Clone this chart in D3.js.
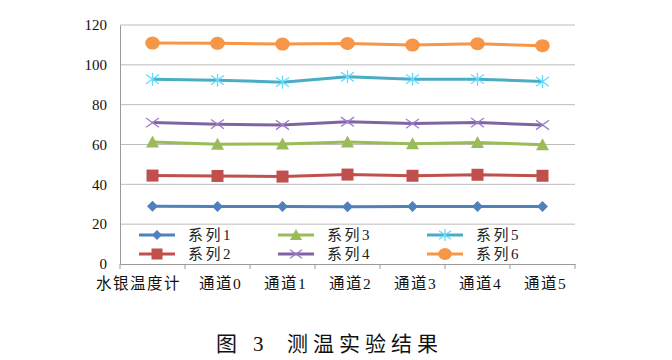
<!DOCTYPE html>
<html><head><meta charset="utf-8">
<script src="https://cdn.jsdelivr.net/npm/d3@7/dist/d3.min.js"></script>
<style>body{margin:0;background:#fff}svg{display:block}</style>
</head><body>
<svg id="c" width="672" height="360"></svg>
<script>
const categories = ["水银温度计","通道0","通道1","通道2","通道3","通道4","通道5"];
const seriesNames = ["系列1","系列2","系列3","系列4","系列5","系列6"];
const s1 = [29.0, 28.9, 28.9, 28.8, 28.9, 28.9, 28.9];
const s2 = [44.4, 44.2, 43.9, 44.9, 44.3, 44.8, 44.3];
const s3 = [61.3, 60.1, 60.3, 61.2, 60.4, 61.0, 59.9];
const s4 = [71.0, 70.2, 69.8, 71.4, 70.5, 71.0, 69.8];
const s5 = [92.8, 92.3, 91.3, 94.0, 92.8, 92.8, 91.6];
const s6 = [110.9, 110.8, 110.4, 110.7, 109.9, 110.6, 109.6];
const yTicks = [0,20,40,60,80,100,120];
const seriesValues = [s1,s2,s3,s4,s5,s6];
const colors = ["#4F81BD","#C0504D","#9BBB59","#8064A2","#4BACC6","#F79646"];
const markers = ["diamond","square","triangle","x","star","circle"];

const svg = d3.select("#c");
const L=120, R=575, T=25, B=264;
const x = d3.scaleBand().domain(categories).range([L,R]);
const y = d3.scaleLinear().domain([0,120]).range([B,T]);
const serif = "Liberation Serif, DejaVu Serif, Noto Sans CJK SC, serif";

// gridlines
svg.append("g").selectAll("line").data(yTicks.filter(d=>d>0)).join("line")
  .attr("x1",L).attr("x2",R).attr("y1",d=>y(d)).attr("y2",d=>y(d))
  .attr("stroke","#bdbdbd").attr("stroke-width",1);

// axes
const yAxis = svg.append("g").attr("transform",`translate(${L},0)`)
  .call(d3.axisLeft(y).tickValues(yTicks).tickSize(0).tickPadding(13));
yAxis.attr("font-family",null);
yAxis.select(".domain").attr("stroke","#9a9a9a");
yAxis.selectAll("text").style("font-family",serif).style("font-size","15px").attr("fill","#111");

const xAxis = svg.append("g").attr("transform",`translate(0,${B})`)
  .call(d3.axisBottom(x).tickSize(0).tickPadding(14));
xAxis.attr("font-family",null);
xAxis.select(".domain").attr("stroke","#9a9a9a");
xAxis.selectAll("text").style("font-family",serif).style("font-size","15.5px").attr("fill","#111")
  .attr("letter-spacing","1.5px").attr("dx",(d,i)=>i===0?"-14":"3");
// boundary tick marks
const bounds = categories.map(c=>x(c)).concat([R]);
svg.append("g").selectAll("line").data(bounds).join("line")
  .attr("x1",d=>d).attr("x2",d=>d).attr("y1",B).attr("y2",B+5)
  .attr("stroke","#9a9a9a");

function drawMarker(g, type, color, size){
  const s = size;
  if(type==="diamond"){
    g.append("path").attr("d",`M0,${-s/2}L${s/2},0L0,${s/2}L${-s/2},0Z`).attr("fill",color);
  } else if(type==="square"){
    g.append("rect").attr("x",-s/2).attr("y",-s/2).attr("width",s).attr("height",s).attr("fill",color);
  } else if(type==="triangle"){
    g.append("path").attr("d",`M0,${-s/2-1}L${s/2+1},${s/2}L${-s/2-1},${s/2}Z`).attr("fill",color);
  } else if(type==="circle"){
    g.append("ellipse").attr("rx",s/2+0.8).attr("ry",s/2).attr("fill",color);
  } else if(type==="x"){
    const h=s/2;
    g.append("path").attr("d",`M${-h},${-h/1.4}L${h},${h/1.4}M${-h},${h/1.4}L${h},${-h/1.4}`)
      .attr("stroke",d3.color(color).brighter(0.6)).attr("stroke-width",1.3).attr("fill","none");
  } else if(type==="star"){
    const h=s/2;
    g.append("path").attr("d",`M${-h},${-h/1.4}L${h},${h/1.4}M${-h},${h/1.4}L${h},${-h/1.4}M0,${-h}L0,${h}`)
      .attr("stroke",d3.color(color).brighter(0.7)).attr("stroke-width",1.3).attr("fill","none");
  }
}
const mSize = [11,12,11,13,13,13];
const line = d3.line().x((d,i)=>x(categories[i])+x.bandwidth()/2).y(d=>y(d));

seriesValues.forEach((vals,si)=>{
  const g = svg.append("g");
  g.append("path").datum(vals).attr("d",line).attr("fill","none")
    .attr("stroke",colors[si]).attr("stroke-width",3).attr("stroke-linejoin","round");
  vals.forEach((v,i)=>{
    const mg = g.append("g").attr("transform",`translate(${x(categories[i])+x.bandwidth()/2},${y(v)})`);
    drawMarker(mg, markers[si], colors[si], mSize[si]);
  });
});

// legend
const legX = [139, 278, 427];
const legY = [235, 254];
seriesNames.forEach((name,si)=>{
  const col = Math.floor(si/2), row = si%2;
  const g = svg.append("g").attr("transform",`translate(${legX[col]},${legY[row]})`);
  g.append("line").attr("x1",0).attr("x2",36).attr("stroke",colors[si]).attr("stroke-width",3);
  const mg = g.append("g").attr("transform","translate(18,0)");
  drawMarker(mg, markers[si], colors[si], mSize[si]-1);
  g.append("text").attr("x",49).attr("y",0).attr("dy","0.36em")
    .style("font-family",serif).style("font-size","15px").attr("letter-spacing","2.5px")
    .attr("fill","#222").text(name);
});

// caption
const cap = svg.append("text").attr("y",351).style("font-family",serif).style("font-size","21px").attr("fill","#111");
cap.append("tspan").attr("x",216).text("图");
cap.append("tspan").attr("x",253).text("3");
cap.append("tspan").attr("x",287).attr("letter-spacing","5px").text("测温实验结果");
</script>
</body></html>
